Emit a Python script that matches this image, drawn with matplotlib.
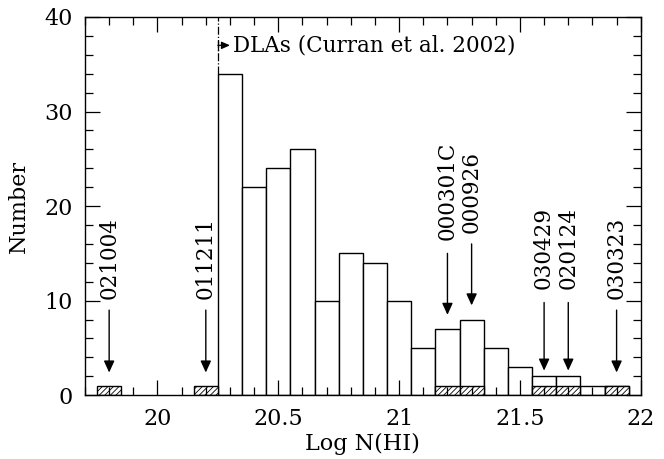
import numpy as np
import matplotlib.pyplot as plt
from matplotlib.ticker import MultipleLocator

plt.rcParams['font.family'] = ['DejaVu Serif']
plt.rcParams['hatch.linewidth'] = 0.6

# DLA histogram (Curran et al. 2002), bin centres and counts
dla_centres = [20.3, 20.4, 20.5, 20.6, 20.7, 20.8, 20.9, 21.0, 21.1,
               21.2, 21.3, 21.4, 21.5, 21.6, 21.7, 21.8, 21.9]
dla_counts = [34, 22, 24, 26, 10, 15, 14, 10, 5, 7, 8, 5, 3, 2, 2, 1, 1]

# GRB host absorbers
grb_names = ['021004', '011211', '000301C', '000926', '030429', '020124', '030323']
grb_logn = [19.8, 20.2, 21.2, 21.3, 21.6, 21.7, 21.9]
grb_counts = [1, 1, 1, 1, 1, 1, 1]
# arrow start / tip and label base (in y data units)
arrow_top = [9.0, 9.0, 15.0, 16.0, 9.8, 9.8, 9.0]
arrow_tip = [2.4, 2.4, 8.5, 9.5, 2.6, 2.6, 2.4]
label_base = [10.2, 10.2, 16.4, 17.2, 11.2, 11.2, 10.2]

dla_cut = 20.3 - 0.05

fig = plt.figure(figsize=(6.64, 4.59), dpi=100)
ax = fig.add_axes([0.128, 0.139, 0.837, 0.824])

ax.bar(dla_centres, dla_counts, width=0.1, facecolor='white',
       edgecolor='black', linewidth=1.0)
ax.bar(grb_logn, grb_counts, width=0.1, facecolor='white',
       edgecolor='black', linewidth=1.0, hatch='//////')

for x, top, tip, lb, name in zip(grb_logn, arrow_top, arrow_tip, label_base, grb_names):
    ax.annotate('', xy=(x, tip), xytext=(x, top),
                arrowprops=dict(arrowstyle='-|>,head_length=0.7,head_width=0.32',
                                color='black', lw=1.0, shrinkA=0, shrinkB=0))
    ax.text(x, lb, name, rotation=90, ha='center', va='bottom', fontsize=15.5)

# DLA cut line
ax.plot([dla_cut, dla_cut], [34, 40], color='black', lw=0.9, ls='-.')
ax.plot([dla_cut, dla_cut], [36.5, 37.5], color='black', lw=0.9)
ax.annotate('', xy=(dla_cut + 0.05, 37.0), xytext=(dla_cut, 37.0),
            arrowprops=dict(arrowstyle='-|>,head_length=0.5,head_width=0.22',
                            color='black', lw=0.9, shrinkA=0, shrinkB=0))
ax.text(dla_cut + 0.062, 37.0, 'DLAs (Curran et al. 2002)', ha='left',
        va='center', fontsize=15.5)

ax.set_xlim(19.7, 22.0)
ax.set_ylim(0, 40)
ax.xaxis.set_major_locator(MultipleLocator(0.5))
ax.xaxis.set_minor_locator(MultipleLocator(0.1))
ax.yaxis.set_major_locator(MultipleLocator(10))
ax.yaxis.set_minor_locator(MultipleLocator(2))
ax.set_xticks([20, 20.5, 21, 21.5, 22])
ax.set_xticklabels(['20', '20.5', '21', '21.5', '22'])
ax.tick_params(which='both', direction='in', top=True, right=True,
               labelsize=16, width=0.9)
ax.tick_params(which='major', length=11, pad=9)
ax.tick_params(which='minor', length=5.5)
for s in ax.spines.values():
    s.set_linewidth(1.0)

ax.set_xlabel('Log N(HI)', fontsize=16, labelpad=2)
ax.set_ylabel('Number', fontsize=16, labelpad=10)

fig.savefig('out.png', dpi=100)
